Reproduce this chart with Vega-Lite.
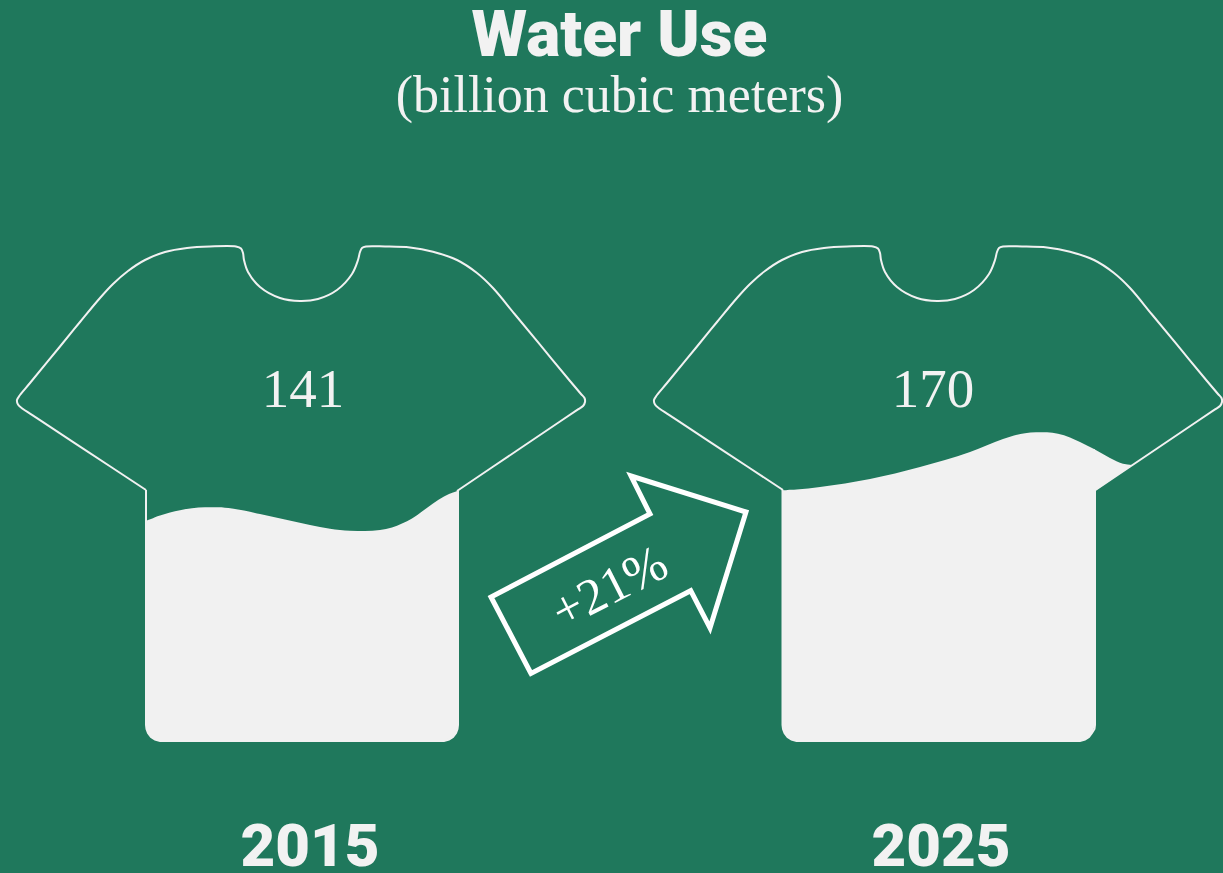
{"$schema":"https://vega.github.io/schema/vega-lite/v6.json","width":1223,"height":873,"padding":0,"autosize":"none","background":"#1f785c",
"title":{"text":"Water Use","subtitle":"(billion cubic meters)","anchor":"middle","orient":"top","offset":-122,"dx":8,"font":"Roboto","fontWeight":900,"fontSize":64,"color":"#f2f2f2","subtitleFont":"Liberation Serif","subtitleFontSize":52,"subtitleColor":"#f2f2f2","subtitlePadding":2},
"config":{"view":{"stroke":null}},
"datasets":{
"outline":[
{"part":"2015","i":1,"x":146,"y":490},{"part":"2015","i":2,"x":85,"y":449.8},{"part":"2015","i":3,"x":40,"y":420.2},{"part":"2015","i":3.5,"x":30,"y":413.6},{"part":"2015","i":4,"x":23,"y":409},{"part":"2015","i":5,"x":18,"y":404.5},{"part":"2015","i":6,"x":17,"y":400},{"part":"2015","i":7,"x":20,"y":395},{"part":"2015","i":8,"x":30,"y":383},{"part":"2015","i":9,"x":60,"y":346.5},{"part":"2015","i":10,"x":80,"y":322},{"part":"2015","i":11,"x":100,"y":298},{"part":"2015","i":12,"x":113,"y":284},{"part":"2015","i":13,"x":128,"y":271},{"part":"2015","i":14,"x":145,"y":260},{"part":"2015","i":15,"x":165,"y":252},{"part":"2015","i":16,"x":187,"y":248},{"part":"2015","i":17,"x":210,"y":246.5},{"part":"2015","i":18,"x":236,"y":246.5},{"part":"2015","i":19,"x":241,"y":248.5},{"part":"2015","i":20,"x":243,"y":253},{"part":"2015","i":21,"x":244,"y":260},{"part":"2015","i":22,"x":248,"y":272},{"part":"2015","i":23,"x":260,"y":287},{"part":"2015","i":24,"x":280,"y":298},{"part":"2015","i":25,"x":300,"y":301},{"part":"2015","i":26,"x":318,"y":299},{"part":"2015","i":27,"x":337,"y":290},{"part":"2015","i":28,"x":352,"y":274},{"part":"2015","i":29,"x":358,"y":260},{"part":"2015","i":30,"x":360,"y":252},{"part":"2015","i":31,"x":362,"y":248},{"part":"2015","i":32,"x":366,"y":246.5},{"part":"2015","i":33,"x":385,"y":246.5},{"part":"2015","i":34,"x":410,"y":247.5},{"part":"2015","i":35,"x":433,"y":251.7},{"part":"2015","i":36,"x":457,"y":260},{"part":"2015","i":37,"x":477,"y":273},{"part":"2015","i":38,"x":493,"y":288},{"part":"2015","i":39,"x":515,"y":314.5},{"part":"2015","i":40,"x":540,"y":344.7},{"part":"2015","i":41,"x":570,"y":381},{"part":"2015","i":42,"x":581,"y":394},{"part":"2015","i":42.5,"x":584.5,"y":398},{"part":"2015","i":43,"x":585,"y":402},{"part":"2015","i":44,"x":583,"y":406},{"part":"2015","i":44.5,"x":578,"y":409.4},{"part":"2015","i":45,"x":560,"y":421.5},{"part":"2015","i":46,"x":520,"y":448.5},{"part":"2015","i":47,"x":457,"y":491},
{"part":"2025","i":1,"x":783,"y":490},{"part":"2025","i":2,"x":722,"y":449.8},{"part":"2025","i":3,"x":677,"y":420.2},{"part":"2025","i":3.5,"x":667,"y":413.6},{"part":"2025","i":4,"x":660,"y":409},{"part":"2025","i":5,"x":655,"y":404.5},{"part":"2025","i":6,"x":654,"y":400},{"part":"2025","i":7,"x":657,"y":395},{"part":"2025","i":8,"x":667,"y":383},{"part":"2025","i":9,"x":697,"y":346.5},{"part":"2025","i":10,"x":717,"y":322},{"part":"2025","i":11,"x":737,"y":298},{"part":"2025","i":12,"x":750,"y":284},{"part":"2025","i":13,"x":765,"y":271},{"part":"2025","i":14,"x":782,"y":260},{"part":"2025","i":15,"x":802,"y":252},{"part":"2025","i":16,"x":824,"y":248},{"part":"2025","i":17,"x":847,"y":246.5},{"part":"2025","i":18,"x":873,"y":246.5},{"part":"2025","i":19,"x":878,"y":248.5},{"part":"2025","i":20,"x":880,"y":253},{"part":"2025","i":21,"x":881,"y":260},{"part":"2025","i":22,"x":885,"y":272},{"part":"2025","i":23,"x":897,"y":287},{"part":"2025","i":24,"x":917,"y":298},{"part":"2025","i":25,"x":937,"y":301},{"part":"2025","i":26,"x":955,"y":299},{"part":"2025","i":27,"x":974,"y":290},{"part":"2025","i":28,"x":989,"y":274},{"part":"2025","i":29,"x":995,"y":260},{"part":"2025","i":30,"x":997,"y":252},{"part":"2025","i":31,"x":999,"y":248},{"part":"2025","i":32,"x":1003,"y":246.5},{"part":"2025","i":33,"x":1022,"y":246.5},{"part":"2025","i":34,"x":1047,"y":247.5},{"part":"2025","i":35,"x":1070,"y":251.7},{"part":"2025","i":36,"x":1094,"y":260},{"part":"2025","i":37,"x":1114,"y":273},{"part":"2025","i":38,"x":1130,"y":288},{"part":"2025","i":39,"x":1152,"y":314.5},{"part":"2025","i":40,"x":1177,"y":344.7},{"part":"2025","i":41,"x":1207,"y":381},{"part":"2025","i":42,"x":1218,"y":394},{"part":"2025","i":42.5,"x":1221.5,"y":398},{"part":"2025","i":43,"x":1222,"y":402},{"part":"2025","i":44,"x":1220,"y":406},{"part":"2025","i":44.5,"x":1215,"y":409.4},{"part":"2025","i":45,"x":1197,"y":421.5},{"part":"2025","i":46,"x":1157,"y":448.5},{"part":"2025","i":47,"x":1094,"y":491}],
"body":[
{"part":"2015","i":1,"x":146,"y":490},{"part":"2015","i":2,"x":146,"y":725},{"part":"2015","i":3,"x":146.5,"y":729},{"part":"2015","i":4,"x":148,"y":733},{"part":"2015","i":5,"x":151,"y":737},{"part":"2015","i":6,"x":155,"y":739.5},{"part":"2015","i":7,"x":160,"y":741},{"part":"2015","i":8,"x":444,"y":741},{"part":"2015","i":9,"x":449,"y":739.5},{"part":"2015","i":10,"x":453,"y":737},{"part":"2015","i":11,"x":456,"y":733},{"part":"2015","i":12,"x":457.5,"y":729},{"part":"2015","i":13,"x":458,"y":725},{"part":"2015","i":14,"x":458,"y":491},
{"part":"2025","i":1,"x":782.5,"y":490},{"part":"2025","i":2,"x":782.5,"y":725},{"part":"2025","i":3,"x":783,"y":729},{"part":"2025","i":4,"x":784.5,"y":733},{"part":"2025","i":5,"x":787.5,"y":737},{"part":"2025","i":6,"x":791.5,"y":739.5},{"part":"2025","i":7,"x":796.5,"y":741},{"part":"2025","i":8,"x":1080,"y":741},{"part":"2025","i":9,"x":1085,"y":739.5},{"part":"2025","i":10,"x":1089,"y":737},{"part":"2025","i":11,"x":1092,"y":733},{"part":"2025","i":12,"x":1094.5,"y":729},{"part":"2025","i":13,"x":1095,"y":725},{"part":"2025","i":14,"x":1095,"y":491}],
"water":[
{"part":"2015","x":146,"y":521,"y2":725},{"part":"2015","x":148,"y":520,"y2":733},{"part":"2015","x":151,"y":519,"y2":737},{"part":"2015","x":155,"y":517.2,"y2":739.5},{"part":"2015","x":160,"y":515.5,"y2":741},{"part":"2015","x":170,"y":512.5,"y2":741},{"part":"2015","x":180,"y":510.2,"y2":741},{"part":"2015","x":192,"y":508.3,"y2":741},{"part":"2015","x":205,"y":507.2,"y2":741},{"part":"2015","x":218,"y":507.2,"y2":741},{"part":"2015","x":232,"y":508.5,"y2":741},{"part":"2015","x":260,"y":514,"y2":741},{"part":"2015","x":285,"y":519.5,"y2":741},{"part":"2015","x":310,"y":525,"y2":741},{"part":"2015","x":330,"y":528.8,"y2":741},{"part":"2015","x":350,"y":530.8,"y2":741},{"part":"2015","x":365,"y":531,"y2":741},{"part":"2015","x":380,"y":530,"y2":741},{"part":"2015","x":392,"y":527.5,"y2":741},{"part":"2015","x":402,"y":523.5,"y2":741},{"part":"2015","x":412,"y":518.5,"y2":741},{"part":"2015","x":422,"y":511.5,"y2":741},{"part":"2015","x":433,"y":503.5,"y2":741},{"part":"2015","x":444,"y":496.5,"y2":741},{"part":"2015","x":449,"y":494,"y2":739.5},{"part":"2015","x":453,"y":492.5,"y2":737},{"part":"2015","x":456,"y":491.5,"y2":733},{"part":"2015","x":458,"y":490.5,"y2":725},
{"part":"2025","x":782.5,"y":490.5,"y2":725},{"part":"2025","x":784.5,"y":490.3,"y2":733},{"part":"2025","x":787.5,"y":490,"y2":737},{"part":"2025","x":791.5,"y":489.8,"y2":739.5},{"part":"2025","x":796.5,"y":489.5,"y2":741},{"part":"2025","x":820,"y":487,"y2":741},{"part":"2025","x":845,"y":483.5,"y2":741},{"part":"2025","x":870,"y":479,"y2":741},{"part":"2025","x":895,"y":473.5,"y2":741},{"part":"2025","x":920,"y":467,"y2":741},{"part":"2025","x":945,"y":460,"y2":741},{"part":"2025","x":970,"y":452,"y2":741},{"part":"2025","x":987,"y":445.3,"y2":741},{"part":"2025","x":1003,"y":439,"y2":741},{"part":"2025","x":1014,"y":435.5,"y2":741},{"part":"2025","x":1025,"y":433.3,"y2":741},{"part":"2025","x":1036,"y":432.2,"y2":741},{"part":"2025","x":1047,"y":432.2,"y2":741},{"part":"2025","x":1058,"y":433.8,"y2":741},{"part":"2025","x":1070,"y":437.5,"y2":741},{"part":"2025","x":1080,"y":442,"y2":741},{"part":"2025","x":1085,"y":444.5,"y2":739.5},{"part":"2025","x":1089,"y":446.5,"y2":737},{"part":"2025","x":1092,"y":448,"y2":733},{"part":"2025","x":1095,"y":449.5,"y2":725},
{"part":"2025 sleeve","x":1094,"y":449,"y2":491.7},{"part":"2025 sleeve","x":1102,"y":453.5,"y2":486},{"part":"2025 sleeve","x":1110,"y":458,"y2":480.5},{"part":"2025 sleeve","x":1117,"y":461.5,"y2":475.5},{"part":"2025 sleeve","x":1123,"y":463.8,"y2":471.5},{"part":"2025 sleeve","x":1132,"y":465,"y2":465}],
"arrow":[{"i":1,"x":491,"y":597},{"i":2,"x":531,"y":673.5},{"i":3,"x":690.7,"y":590.7},{"i":4,"x":710,"y":628},{"i":5,"x":746,"y":512},{"i":6,"x":631,"y":476},{"i":7,"x":650,"y":514},{"i":8,"x":491,"y":597},{"i":9,"x":531,"y":673.5}],
"values":[{"year":"2015","use":141,"x":303,"y":407,"yearX":310,"yearY":866},{"year":"2025","use":170,"x":933,"y":407,"yearX":941,"yearY":866}],
"change":[{"label":"+21%","x":617,"y":602}]},
"layer":[
{"data":{"name":"water"},"mark":{"type":"area","interpolate":"monotone","color":"#f1f1f1"},"encoding":{"x":{"field":"x","type":"quantitative","scale":{"domain":[0,1223],"nice":false,"zero":false},"axis":null},"y":{"field":"y","type":"quantitative","scale":{"domain":[873,0],"nice":false,"zero":false},"axis":null},"y2":{"field":"y2"},"detail":{"field":"part"}}},
{"data":{"name":"outline"},"mark":{"type":"line","interpolate":"catmull-rom","color":"#f1f1f1","strokeWidth":2},"encoding":{"x":{"field":"x","type":"quantitative"},"y":{"field":"y","type":"quantitative"},"detail":{"field":"part"},"order":{"field":"i","type":"quantitative"}}},
{"data":{"name":"body"},"mark":{"type":"line","color":"#f1f1f1","strokeWidth":2},"encoding":{"x":{"field":"x","type":"quantitative"},"y":{"field":"y","type":"quantitative"},"detail":{"field":"part"},"order":{"field":"i","type":"quantitative"}}},
{"data":{"name":"arrow"},"mark":{"type":"line","color":"#ffffff","strokeWidth":5,"strokeJoin":"miter","strokeMiterLimit":10},"encoding":{"x":{"field":"x","type":"quantitative"},"y":{"field":"y","type":"quantitative"},"order":{"field":"i","type":"quantitative"}}},
{"data":{"name":"values"},"mark":{"type":"text","font":"Liberation Serif","fontSize":55,"color":"#f2f2f2","align":"center","baseline":"alphabetic"},"encoding":{"x":{"field":"x","type":"quantitative"},"y":{"field":"y","type":"quantitative"},"text":{"field":"use"}}},
{"data":{"name":"values"},"mark":{"type":"text","font":"Roboto","fontWeight":900,"fontSize":60,"color":"#f2f2f2","align":"center","baseline":"alphabetic"},"encoding":{"x":{"field":"yearX","type":"quantitative"},"y":{"field":"yearY","type":"quantitative"},"text":{"field":"year"}}},
{"data":{"name":"change"},"mark":{"type":"text","font":"Liberation Serif","fontSize":51,"color":"#ffffff","align":"center","baseline":"alphabetic","angle":-27},"encoding":{"x":{"field":"x","type":"quantitative"},"y":{"field":"y","type":"quantitative"},"text":{"field":"label"}}}
]}
